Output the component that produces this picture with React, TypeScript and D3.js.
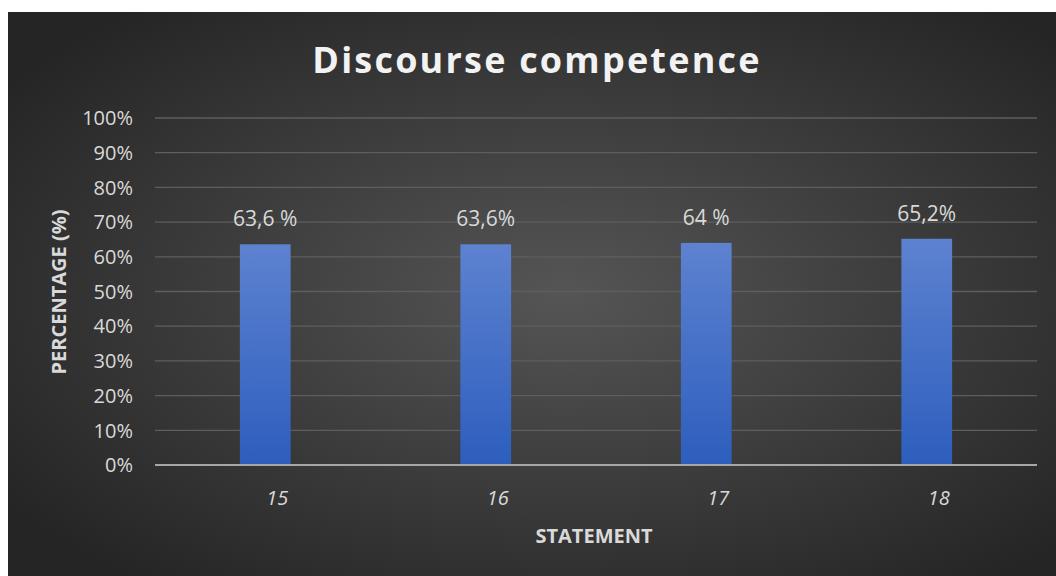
import React, { useEffect, useRef } from "react";
import * as d3 from "d3";

const statements = ["15", "16", "17", "18"];
const percentages = [63.6, 63.6, 64, 65.2];
const valueLabels = ["63,6 %", "63,6%", "64 %", "65,2%"];
const yTicks = [0, 10, 20, 30, 40, 50, 60, 70, 80, 90, 100];

const App = () => {
  const ref = useRef<SVGSVGElement>(null);

  useEffect(() => {
    const width = 1056;
    const height = 576;
    const margin = { top: 118, right: 19, bottom: 111, left: 155 };
    const innerWidth = width - margin.left - margin.right;
    const innerHeight = height - margin.top - margin.bottom;
    const font = "'Open Sans', sans-serif";

    const svg = d3.select(ref.current);
    svg.selectAll("*").remove();

    const defs = svg.append("defs");
    const bg = defs.append("radialGradient")
      .attr("id", "bg")
      .attr("cx", "53%").attr("cy", "50%").attr("r", "65%");
    bg.append("stop").attr("offset", "0%").attr("stop-color", "#555555");
    bg.append("stop").attr("offset", "100%").attr("stop-color", "#252525");

    const barGrad = defs.append("linearGradient")
      .attr("id", "bar")
      .attr("x1", 0).attr("y1", 0).attr("x2", 0).attr("y2", 1);
    barGrad.append("stop").attr("offset", "0%").attr("stop-color", "#5d82d0");
    barGrad.append("stop").attr("offset", "100%").attr("stop-color", "#2d5ebd");

    // background
    svg.append("rect").attr("width", width).attr("height", height).attr("fill", "#ffffff");
    svg.append("rect")
      .attr("x", 8).attr("y", 12)
      .attr("width", width - 8).attr("height", height - 12)
      .attr("fill", "url(#bg)");

    const inner = svg.append("g")
      .attr("transform", `translate(${margin.left}, ${margin.top})`);

    const xScale = d3.scaleBand()
      .domain(statements)
      .range([0, innerWidth])
      .paddingInner(0.77)
      .paddingOuter(0.385);

    const yScale = d3.scaleLinear()
      .domain([0, 100])
      .range([innerHeight, 0]);

    // gridlines
    inner.selectAll(".grid")
      .data(yTicks.filter(t => t > 0))
      .enter()
      .append("line")
      .attr("x1", 0)
      .attr("x2", innerWidth)
      .attr("y1", d => yScale(d))
      .attr("y2", d => yScale(d))
      .attr("stroke", "#5e5e5e")
      .attr("stroke-width", 1.3);

    // y tick labels
    inner.selectAll(".ytick")
      .data(yTicks)
      .enter()
      .append("text")
      .attr("x", -22)
      .attr("y", d => yScale(d))
      .attr("dy", "0.36em")
      .attr("text-anchor", "end")
      .attr("font-family", font)
      .attr("font-size", "20px")
      .attr("fill", "#d9d9d9")
      .text(d => `${d}%`);

    // bars
    inner.selectAll(".bar")
      .data(percentages)
      .enter()
      .append("rect")
      .attr("x", (d, i) => xScale(statements[i])!)
      .attr("y", d => yScale(d))
      .attr("width", xScale.bandwidth())
      .attr("height", d => innerHeight - yScale(d))
      .attr("fill", "url(#bar)");

    // value labels
    inner.selectAll(".value")
      .data(percentages)
      .enter()
      .append("text")
      .attr("x", (d, i) => xScale(statements[i])! + xScale.bandwidth() / 2)
      .attr("y", d => yScale(d) - 18)
      .attr("text-anchor", "middle")
      .attr("font-family", font)
      .attr("font-size", "21px")
      .attr("fill", "#d9d9d9")
      .text((d, i) => valueLabels[i]);

    // x axis line
    inner.append("line")
      .attr("x1", 0)
      .attr("x2", innerWidth)
      .attr("y1", innerHeight)
      .attr("y2", innerHeight)
      .attr("stroke", "#a6a6a6")
      .attr("stroke-width", 2.2);

    // x tick labels
    inner.selectAll(".xtick")
      .data(statements)
      .enter()
      .append("text")
      .attr("x", d => xScale(d)! + xScale.bandwidth() / 2 + 12)
      .attr("y", innerHeight + 40)
      .attr("text-anchor", "middle")
      .attr("font-family", font)
      .attr("font-style", "italic")
      .attr("font-size", "20px")
      .attr("fill", "#d9d9d9")
      .text(d => d);

    // title
    svg.append("text")
      .attr("x", 537)
      .attr("y", 73)
      .attr("text-anchor", "middle")
      .attr("font-family", font)
      .attr("font-weight", "bold")
      .attr("font-size", "36px")
      .attr("letter-spacing", "2.2px")
      .attr("fill", "#f2f2f2")
      .text("Discourse competence");

    // y axis label
    svg.append("text")
      .attr("transform", "rotate(-90)")
      .attr("x", -292)
      .attr("y", 66)
      .attr("text-anchor", "middle")
      .attr("font-family", font)
      .attr("font-weight", "bold")
      .attr("font-size", "20px")
      .attr("fill", "#d9d9d9")
      .text("PERCENTAGE (%)");

    // x axis label
    svg.append("text")
      .attr("x", 594)
      .attr("y", 543)
      .attr("text-anchor", "middle")
      .attr("font-family", font)
      .attr("font-weight", "bold")
      .attr("font-size", "20px")
      .attr("fill", "#d9d9d9")
      .text("STATEMENT");
  }, []);

  return (
    <svg
      ref={ref}
      width={1056}
      height={576}
      style={{ position: "absolute", left: 0, top: 0 }}
    />
  );
};

export default App;
